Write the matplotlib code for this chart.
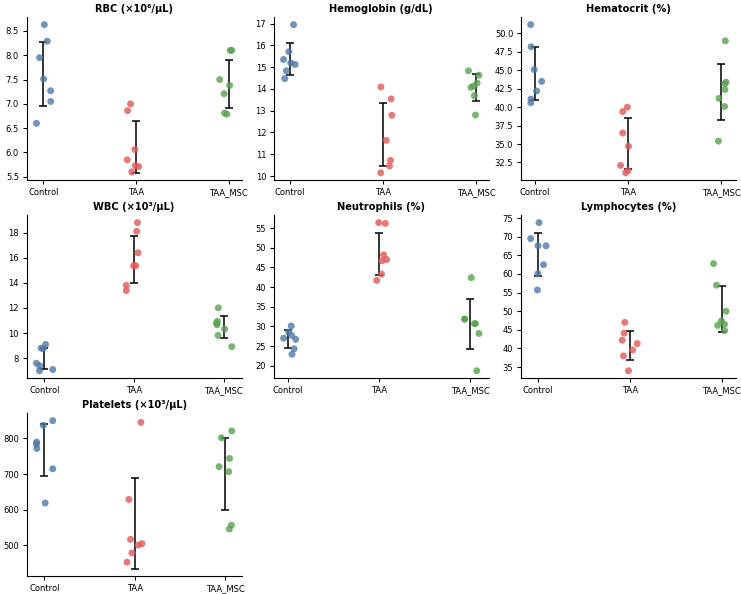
import matplotlib
matplotlib.use("Agg")
import matplotlib.pyplot as plt
from matplotlib.ticker import MaxNLocator
import numpy as np
import pandas as pd
import seaborn as sns

groups = ["Control", "TAA", "TAA_MSC"]
colors = ["#4e79a7", "#e15759", "#59a14f"]

titles = ["RBC (×10⁶/µL)", "Hemoglobin (g/dL)", "Hematocrit (%)",
          "WBC (×10³/µL)", "Neutrophils (%)", "Lymphocytes (%)",
          "Platelets (×10³/µL)"]

rbc = [[8.63, 8.29, 7.95, 7.51, 7.27, 7.05, 6.60],
       [7.00, 6.86, 6.06, 5.85, 5.73, 5.71, 5.60],
       [8.10, 8.10, 7.50, 7.38, 7.21, 6.79, 6.81]]
hgb = [[16.95, 15.71, 15.35, 15.19, 15.12, 14.83, 14.47],
       [14.09, 13.54, 12.79, 11.64, 10.72, 10.46, 10.15],
       [14.83, 14.63, 14.27, 14.13, 14.07, 13.69, 12.80]]
hct = [[51.2, 48.2, 45.1, 43.5, 42.2, 41.1, 40.6],
       [40.0, 39.4, 36.5, 34.7, 32.1, 31.4, 31.1],
       [49.0, 43.4, 43.2, 42.4, 41.2, 40.1, 35.4]]
wbc = [[9.10, 8.80, 8.75, 7.60, 7.40, 7.10, 7.00],
       [18.79, 18.10, 16.39, 15.36, 15.36, 13.80, 13.38],
       [12.01, 10.93, 10.80, 10.66, 10.32, 9.82, 8.92]]
neut = [[30.1, 28.5, 27.7, 27.0, 26.7, 24.3, 22.9],
        [56.4, 56.2, 48.2, 46.7, 47.0, 43.3, 41.7],
        [42.4, 31.9, 31.8, 30.7, 30.7, 28.2, 18.7]]
lymph = [[73.8, 69.5, 67.6, 67.6, 62.5, 60.1, 55.7],
         [47.0, 44.1, 42.2, 41.3, 39.6, 38.0, 34.0],
         [62.8, 57.0, 50.0, 46.5, 47.4, 46.2, 44.8]]
plt_count = [[850, 837, 790, 784, 772, 715, 619],
             [845, 629, 517, 501, 505, 479, 453],
             [821, 802, 744, 721, 707, 557, 546]]

panels = [rbc, hgb, hct, wbc, neut, lymph, plt_count]

fig, axes = plt.subplots(3, 3, figsize=(7.41, 5.94), dpi=100)
fig.subplots_adjust(left=0.036, right=0.993, top=0.971, bottom=0.030,
                    wspace=0.15, hspace=0.215)
axes = axes.flatten()
np.random.seed(3)

for ax, title, values in zip(axes, titles, panels):
    df = pd.DataFrame({
        "group": [g for g, v in zip(groups, values) for _ in v],
        "value": [x for v in values for x in v],
    })
    sns.stripplot(data=df, x="group", y="value", hue="group", order=groups,
                  palette=colors, size=5, alpha=0.8, jitter=True,
                  legend=False, ax=ax)
    means = [np.mean(v) for v in values]
    sds = [np.std(v) for v in values]
    ax.errorbar(range(len(groups)), means, yerr=sds, fmt="none",
                ecolor="black", elinewidth=1.1, capsize=3, capthick=1.1)
    ax.set_title(title, fontsize=7.1, fontweight="bold", pad=4)
    ax.set_xlabel("")
    ax.set_ylabel("")
    ax.yaxis.set_major_locator(MaxNLocator(nbins=9, steps=[1, 2, 2.5, 5, 10]))
    ax.tick_params(labelsize=6.0, length=3, pad=2.5)
    ax.spines["top"].set_visible(False)
    ax.spines["right"].set_visible(False)

for ax in axes[len(panels):]:
    fig.delaxes(ax)

plt.savefig("out.png", dpi=100)
